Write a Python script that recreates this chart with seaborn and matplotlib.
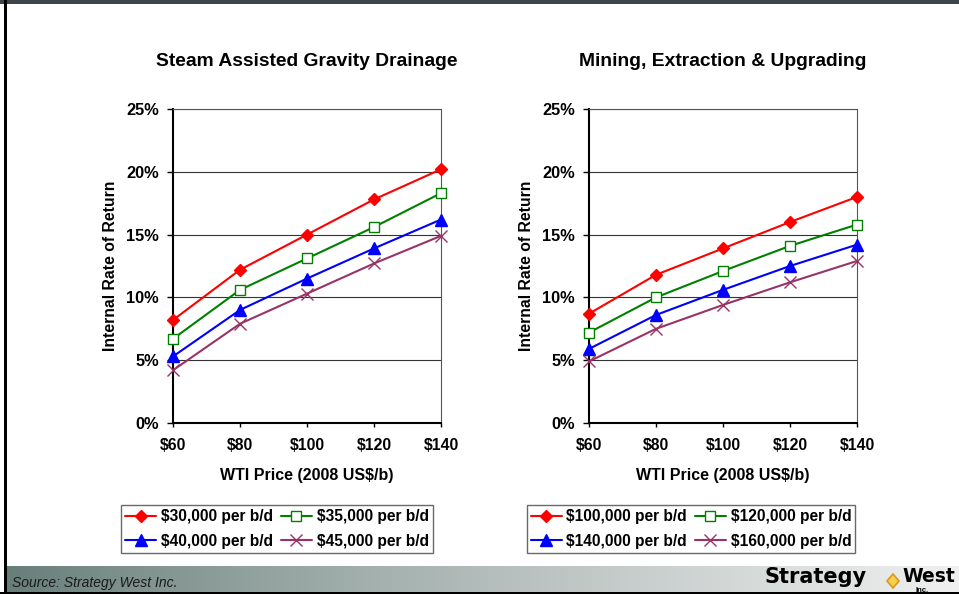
import numpy as np
import pandas as pd
import matplotlib
matplotlib.use("Agg")
import matplotlib.pyplot as plt
from matplotlib.patches import Rectangle, Polygon
from matplotlib.lines import Line2D
import seaborn as sns

# ---- data -------------------------------------------------------------
prices = [60, 80, 100, 120, 140]
price_labels = ["$60", "$80", "$100", "$120", "$140"]

sagd_labels = ["$30,000 per b/d", "$35,000 per b/d", "$40,000 per b/d", "$45,000 per b/d"]
sagd_30k = [8.2, 12.2, 15.0, 17.8, 20.2]
sagd_35k = [6.7, 10.6, 13.1, 15.6, 18.3]
sagd_40k = [5.3, 9.0, 11.5, 13.9, 16.2]
sagd_45k = [4.2, 7.9, 10.3, 12.7, 14.9]

mining_labels = ["$100,000 per b/d", "$120,000 per b/d", "$140,000 per b/d", "$160,000 per b/d"]
mining_100k = [8.7, 11.8, 13.9, 16.0, 18.0]
mining_120k = [7.2, 10.0, 12.1, 14.1, 15.8]
mining_140k = [5.9, 8.6, 10.6, 12.5, 14.2]
mining_160k = [4.9, 7.5, 9.4, 11.2, 12.9]

y_ticks = [0, 5, 10, 15, 20, 25]
y_tick_labels = ["0%", "5%", "10%", "15%", "20%", "25%"]

# ---- styling ----------------------------------------------------------
sns.set_theme(style="white")
plt.rcParams["font.family"] = ["Liberation Sans", "DejaVu Sans"]
plt.rcParams.update({"text.color": "black", "axes.labelcolor": "black",
                     "xtick.color": "black", "ytick.color": "black"})

series_styles = [
    dict(color="#FF0000", marker="D", markersize=6, markerfacecolor="#FF0000", markeredgecolor="#FF0000"),
    dict(color="#008000", marker="s", markersize=7, markerfacecolor="white", markeredgecolor="#008000"),
    dict(color="#0000FF", marker="^", markersize=8, markerfacecolor="#0000FF", markeredgecolor="#0000FF"),
    dict(color="#993366", marker="x", markersize=8, markerfacecolor="none", markeredgecolor="#993366",
         markeredgewidth=1.0),
]

W, H = 959, 594
fig = plt.figure(figsize=(W / 100, H / 100), dpi=100)
fig.patch.set_facecolor("white")


def draw_panel(rect, title, labels, series, legend_center):
    ax = fig.add_axes(rect)
    df = pd.DataFrame({
        "price": np.tile(prices, len(series)),
        "irr": np.concatenate(series),
        "case": np.repeat(labels, len(prices)),
    })
    handles = []
    for lab, st in zip(labels, series_styles):
        sub = df[df["case"] == lab]
        sns.lineplot(data=sub, x="price", y="irr", ax=ax, linewidth=1.5,
                     color=st["color"], marker=st["marker"], markersize=st["markersize"],
                     markerfacecolor=st["markerfacecolor"], markeredgecolor=st["markeredgecolor"],
                     markeredgewidth=st.get("markeredgewidth", 1.0), clip_on=False,
                     legend=False, zorder=5)
        handles.append(Line2D([], [], color=st["color"], lw=1.5, marker=st["marker"],
                              markersize=st["markersize"], markerfacecolor=st["markerfacecolor"],
                              markeredgecolor=st["markeredgecolor"],
                              markeredgewidth=st.get("markeredgewidth", 1.0)))

    ax.set_xlim(60, 140)
    ax.set_ylim(0, 25)
    ax.set_xticks(prices)
    ax.set_xticklabels(price_labels, fontsize=11.3, fontweight="bold")
    ax.set_yticks(y_ticks)
    ax.set_yticklabels(y_tick_labels, fontsize=11.8, fontweight="bold")
    ax.tick_params(axis="y", direction="out", length=4, width=1, pad=6, colors="black", left=True)
    ax.tick_params(axis="x", direction="out", length=3, width=1, pad=8, colors="black", bottom=True)
    ax.grid(axis="y", color="#333333", linewidth=0.8)
    ax.grid(axis="x", visible=False)
    ax.set_axisbelow(True)
    for side in ("left", "bottom"):
        ax.spines[side].set_color("black")
        ax.spines[side].set_linewidth(1.5)
    for side in ("top", "right"):
        ax.spines[side].set_color("#555555")
        ax.spines[side].set_linewidth(0.8)

    ax.set_xlabel("WTI Price (2008 US$/b)", fontsize=11.5, fontweight="bold")
    ax.set_ylabel("Internal Rate of Return", fontsize=11.3, fontweight="bold")
    ax.xaxis.set_label_coords(0.5, -0.143)
    ax.yaxis.set_label_coords(-0.205, 0.5)
    ax.set_title(title, fontsize=13.9, fontweight="bold", pad=31)

    order = [0, 2, 1, 3]
    leg = fig.legend([handles[i] for i in order], [labels[i] for i in order],
                     loc="center", bbox_to_anchor=legend_center, ncol=2,
                     prop=dict(size=11.2, weight="bold"), frameon=True, fancybox=False,
                     handlelength=2.0, handletextpad=0.3, columnspacing=0.5,
                     labelspacing=0.6, borderpad=0.25, borderaxespad=0)
    leg.get_frame().set_edgecolor("#444444")
    leg.get_frame().set_linewidth(1.0)
    return ax


draw_panel([173 / W, 171 / H, 268 / W, 314 / H], "Steam Assisted Gravity Drainage",
           sagd_labels, [sagd_30k, sagd_35k, sagd_40k, sagd_45k], (277 / W, 1 - 529 / H))
draw_panel([589 / W, 171 / H, 268 / W, 314 / H], "Mining, Extraction & Upgrading",
           mining_labels, [mining_100k, mining_120k, mining_140k, mining_160k], (691 / W, 1 - 529 / H))

# ---- slide frame: top strip, left rule, footer band ---------------------
fig.patches.append(Rectangle((0, 1 - 4 / H), 1, 4 / H, transform=fig.transFigure,
                             facecolor="#3c444c", edgecolor="none", zorder=0))
fig.patches.append(Rectangle((4 / W, 0), 2.5 / W, 1, transform=fig.transFigure,
                             facecolor="black", edgecolor="none", zorder=3))

band = fig.add_axes([6 / W, 2 / H, 1 - 6 / W, 26 / H])
grad = np.linspace(0, 1, 512)
c0 = np.array([0.40, 0.49, 0.47])
c1 = np.array([0.94, 0.94, 0.94])
t = grad[:, None] ** 0.85
img = c0[None, :] * (1 - t) + c1[None, :] * t
band.imshow(img[None, :, :], aspect="auto", extent=(0, 1, 0, 1))
band.set_axis_off()
fig.patches.append(Rectangle((0, 0), 1, 2.5 / H, transform=fig.transFigure,
                             facecolor="black", edgecolor="none", zorder=3))

fig.text(12 / W, 1 - 583 / H, "Source: Strategy West Inc.", fontsize=10, style="italic",
         family=["Liberation Sans Narrow", "Liberation Sans"], color="#1a1a1a", va="center")
fig.text(765 / W, 1 - 577 / H, "Strategy", fontsize=15, fontweight="heavy",
         family=["DejaVu Sans"], color="black", va="center")
fig.text(902 / W, 1 - 577 / H, "West", fontsize=13.5, fontweight="heavy",
         family=["DejaVu Sans"], color="black", va="center")
fig.text(916 / W, 1 - 590 / H, "Inc.", fontsize=5.5, fontweight="bold", color="black", va="center")
fig.patches.append(Polygon([(887 / W, 1 - 581 / H), (893 / W, 1 - 574 / H), (899 / W, 1 - 581 / H),
                            (893 / W, 1 - 588 / H)], closed=True, transform=fig.transFigure,
                           facecolor="#f5d04a", edgecolor="#d79a1c", linewidth=1.2, zorder=4))

fig.savefig("out.png", dpi=100)
